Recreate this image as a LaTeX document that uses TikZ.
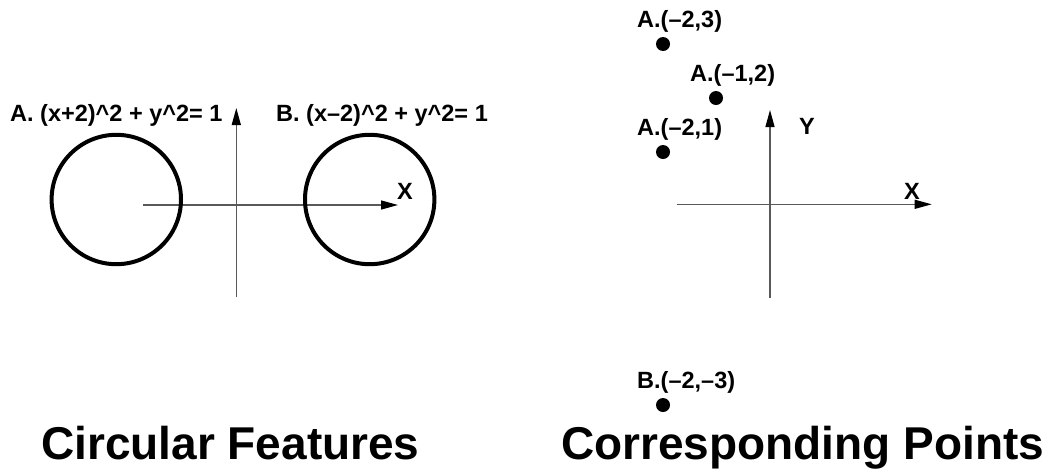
\documentclass[tikz,border=0pt]{standalone}
\usepackage{fontspec}
\setmainfont{Liberation Sans}
\usetikzlibrary{arrows.meta}

\begin{document}
\begin{tikzpicture}
            [x=1pt, y=-1pt,
             ring/.style={circle,draw,line width=4pt,minimum size=129.4pt,inner sep=0pt},
             dot/.style={circle,fill,minimum size=14pt,inner sep=0pt},
             lbl/.style={anchor=base west,inner sep=0pt,font=\fontsize{23.5}{28}\selectfont\bfseries},
             title/.style={anchor=base west,inner sep=0pt,font=\fontsize{46}{52}\selectfont\bfseries},
             axis/.style={draw=black!65,line width=1.3pt,-{Triangle[length=17pt,width=9pt,color=black]}}]
            \useasboundingbox (0,0) rectangle (1054,472);

            % left: the two circles
            \coordinate (lx0) at (143,205);
            \coordinate (lx1) at (398,205);
            \coordinate (ly0) at (236.3,297);
            \coordinate (ly1) at (236.3,108);
            \draw[axis] (lx0) -- (lx1);
            \draw[axis] (ly0) -- (ly1);
            \node[ring] (ca) at (116.3,199.5) {};
            \node[ring] (cb) at (369.7,199.5) {};
            \node[lbl] (eqa) at (10,121) {A. (x+2)\textasciicircum 2 + y\textasciicircum 2= 1};
            \node[lbl] (eqb) at (276,121) {B. (x–2)\textasciicircum 2 + y\textasciicircum 2= 1};
            \node[lbl] (xl) at (397,199) {X};

            % right: the points
            \coordinate (rx0) at (676.7,204.3);
            \coordinate (rx1) at (931.7,204.3);
            \coordinate (ry0) at (770,297.7);
            \coordinate (ry1) at (770,110);
            \draw[axis] (rx0) -- (rx1);
            \draw[axis] (ry0) -- (ry1);
            \node[dot] (pa) at (663,44) {};
            \node[dot] (pb) at (716,98) {};
            \node[dot] (pc) at (663,152) {};
            \node[dot] (pd) at (663,405) {};
            \node[lbl] (la) at (637,27) {A.(–2,3)};
            \node[lbl] (lb) at (690,81) {A.(–1,2)};
            \node[lbl] (lc) at (637,135) {A.(–2,1)};
            \node[lbl] (ld) at (637,388) {B.(–2,–3)};
            \node[lbl] (yr) at (799,134) {Y};
            \node[lbl] (xr) at (904,199) {X};

            \node[title] (tl) at (41,459) {Circular Features};
            \node[title] (tr) at (561,459) {Corresponding Points};
         \end{tikzpicture}
\end{document}
